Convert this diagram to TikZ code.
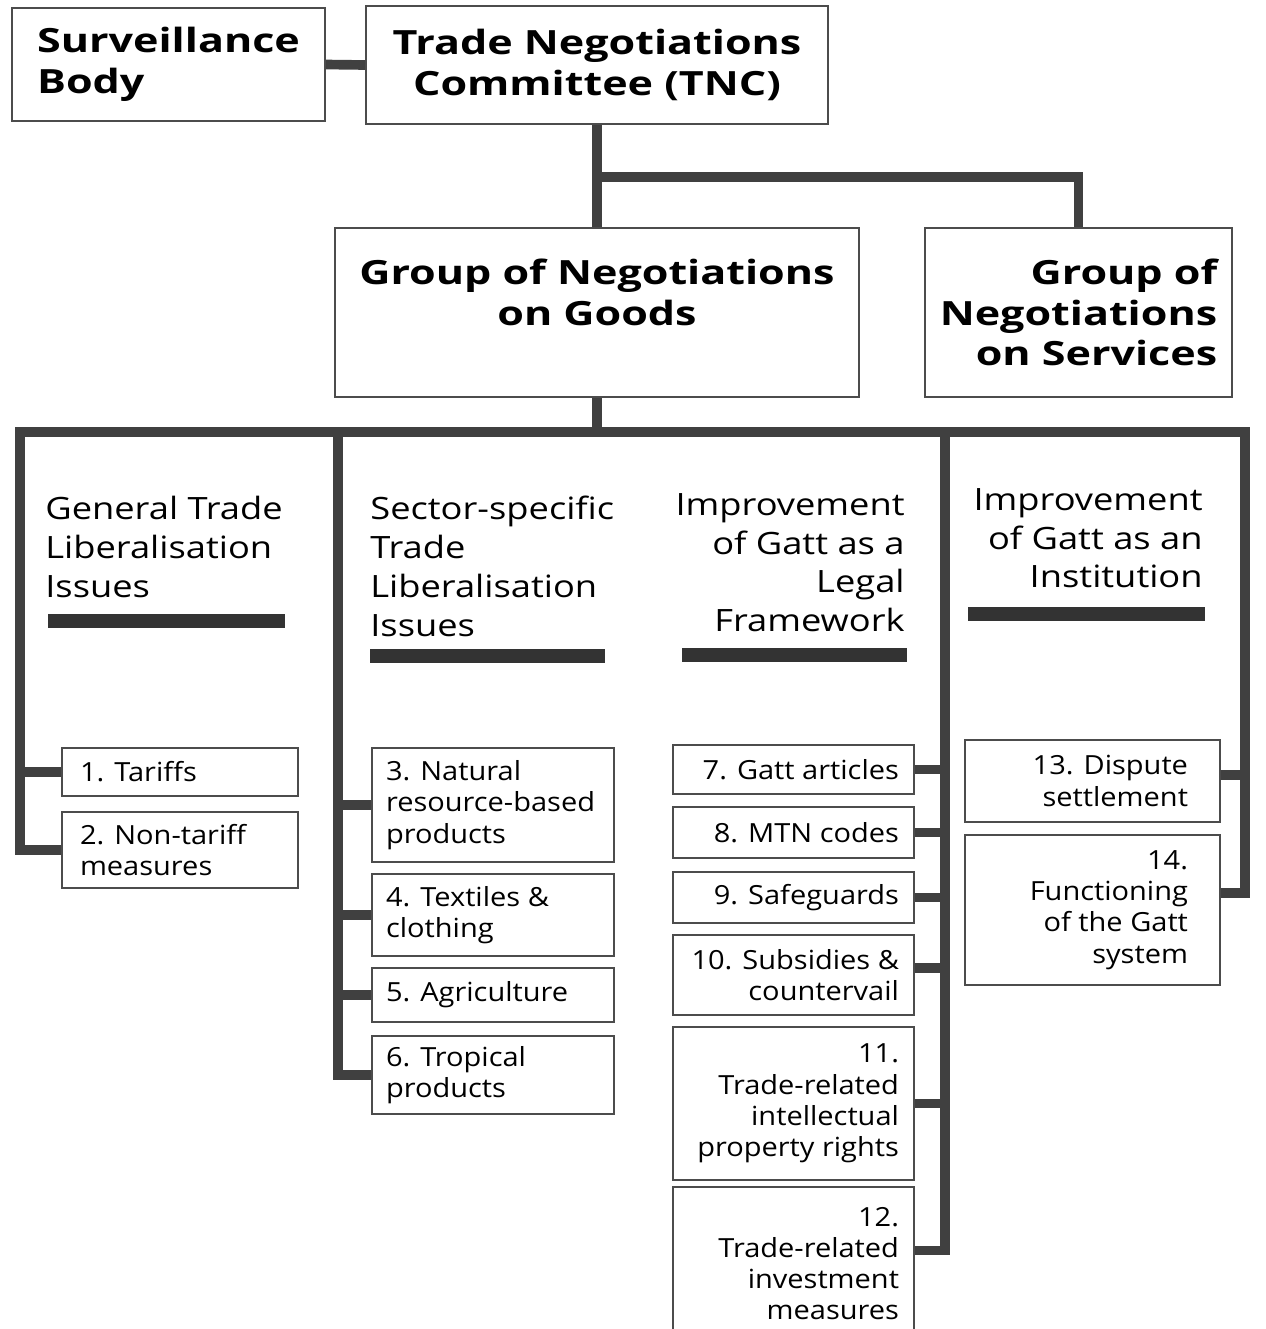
\documentclass[tikz,border=0pt]{standalone}
\usepackage{fontspec}
\setmainfont{Open Sans}
\newfontfamily\topfont{Open Sans}[FakeStretch=1.29]
\newfontfamily\headfont{Open Sans}[FakeStretch=1.18]
\newfontfamily\itemfont{Open Sans}[FakeStretch=1.1]
\usepackage{tikz}

\begin{document}
\begin{tikzpicture}[x=0.02cm, y=-0.02cm,
    top/.style={draw=black!70, line width=1.2pt, fill=white, inner sep=0pt, font=\topfont\bfseries\fontsize{19}{23}\selectfont},
    head/.style={inner sep=0pt, font=\headfont\fontsize{17.5}{22.1}\selectfont},
    item/.style={draw=black!70, line width=1.1pt, fill=white, inner ysep=0pt, font=\itemfont\fontsize{15}{17.8}\selectfont},
    itemL/.style={item, inner xsep=0.36cm, text width=4.0cm, align=flush left},
    itemS/.style={item, inner xsep=0.28cm, text width=4.28cm, align=flush left},
    itemR/.style={item, inner xsep=0.3cm, text width=4.22cm, align=flush right},
    itemI/.style={item, inner xsep=0.64cm, text width=3.82cm, align=flush right},
    bar/.style={fill=black!80, inner sep=0pt, minimum height=0.29cm},
    link/.style={draw=black!75, line width=5.5pt}]
  \useasboundingbox (0,0) rectangle (1265,1329);
  \node (surv) at (168.5,64.5) [top, minimum width=6.26cm, minimum height=2.26cm, align=left] {Surveillance\\Body};
  \node (tnc) at (597,65) [top, minimum width=9.24cm, minimum height=2.36cm, align=center] {Trade Negotiations\\Committee (TNC)};
  \node (goods) at (597,312.5) [top, minimum width=10.48cm, minimum height=3.38cm, align=center] {Group of Negotiations\\on Goods\\\mbox{}};
  \node (serv) at (1078.5,312.5) [top, minimum width=6.14cm, minimum height=3.38cm, align=right] {Group of\\Negotiations\\on Services};
  \node (gen) at (45,496) [head, anchor=north west, align=left] {General Trade\\Liberalisation\\Issues};
  \node (sec) at (370,496) [head, anchor=north west, align=left] {Sector-specific\\Trade\\Liberalisation\\Issues};
  \node (leg) at (905,493) [head, anchor=north east, align=right] {Improvement\\of Gatt as a\\Legal\\Framework};
  \node (inst) at (1203,488) [head, anchor=north east, align=right] {Improvement\\of Gatt as an\\Institution};
  \node (bar1) at (166.5,621) [bar, minimum width=4.74cm] {};
  \node (bar2) at (487.5,656) [bar, minimum width=4.7cm] {};
  \node (bar3) at (794.5,655) [bar, minimum width=4.5cm] {};
  \node (bar4) at (1086.5,614) [bar, minimum width=4.74cm] {};
  \node (i1) at (180,772) [itemL, minimum height=0.96cm] {1. Tariffs};
  \node (i2) at (180,850) [itemL, minimum height=1.52cm] {2. Non-tariff\\measures};
  \node (i3) at (493,805) [itemS, minimum height=2.28cm] {3. Natural\\resource-based\\products};
  \node (i4) at (493,915) [itemS, minimum height=1.64cm] {4. Textiles \&\\clothing};
  \node (i5) at (493,995) [itemS, minimum height=1.08cm] {5. Agriculture};
  \node (i6) at (493,1075) [itemS, minimum height=1.56cm] {6. Tropical\\products};
  \node (i7) at (793.5,769.5) [itemR, minimum height=0.98cm] {7. Gatt articles};
  \node (i8) at (793.5,832.5) [itemR, minimum height=1.02cm] {8. MTN codes};
  \node (i9) at (793.5,897.5) [itemR, minimum height=1.02cm] {9. Safeguards};
  \node (i10) at (793.5,975) [itemR, minimum height=1.6cm] {10. Subsidies \&\\countervail};
  \node (i11) at (793.5,1103.5) [itemR, minimum height=3.06cm] {11.\\Trade-related\\intellectual\\property rights};
  \node (i12) at (793.5,1263.5) [itemR, minimum height=3.06cm] {12.\\Trade-related\\investment\\measures};
  \node (i13) at (1092.5,781) [itemI, minimum height=1.64cm] {13. Dispute\\settlement};
  \node (i14) at (1092.5,910) [itemI, minimum height=3.0cm] {14.\\Functioning\\of the Gatt\\system};
  \coordinate (split) at (597,177);
  \coordinate (busL) at (20,432);
  \coordinate (busR) at (1245,432);
  \coordinate (busB) at (338,432);
  \coordinate (busC) at (945,432);
  \draw[link] (surv.east) -- (tnc.west);
  \draw[link] (tnc.south) -- (goods.north);
  \draw[link] (split) -| (serv.north);
  \draw[link] (goods.south) -- (goods.south |- busL);
  \draw[link] (i2.west) -| (busL) -- (busR) |- ([yshift=0.34cm]i14.east);
  \draw[link] (busB) |- (i6.west);
  \draw[link] (busC) |- ([yshift=0.26cm]i12.east);
  \draw[link] (i1.west -| busL) -- (i1.west);
  \draw[link] (i3.west -| busB) -- (i3.west);
  \draw[link] (i4.west -| busB) -- (i4.west);
  \draw[link] (i5.west -| busB) -- (i5.west);
  \draw[link] (i7.east) -- (i7.east -| busC);
  \draw[link] (i8.east) -- (i8.east -| busC);
  \draw[link] (i9.east) -- (i9.east -| busC);
  \draw[link] ([yshift=0.14cm]i10.east) -- ([yshift=0.14cm]i10.east -| busC);
  \draw[link] (i11.east) -- (i11.east -| busC);
  \draw[link] ([yshift=0.12cm]i13.east) -- ([yshift=0.12cm]i13.east -| busR);
\end{tikzpicture}
\end{document}
